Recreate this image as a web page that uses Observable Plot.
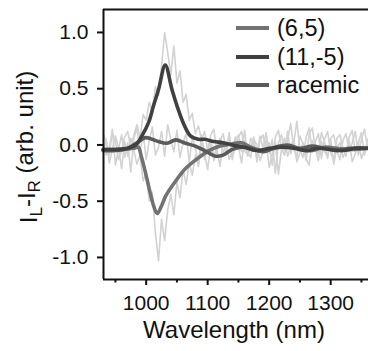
<!DOCTYPE html>
<html>
<head>
<meta charset="utf-8">
<script src="https://cdn.jsdelivr.net/npm/d3@7"></script>
<script src="https://cdn.jsdelivr.net/npm/@observablehq/plot@0.6"></script>
<style>
  html, body { margin: 0; padding: 0; background: #fff; overflow: hidden; }
  #chart { width: 368px; height: 351px; }
</style>
</head>
<body>
<div id="chart"></div>
<script>
// ---------- data ----------
const seriesNames = ["(6,5)", "(11,-5)", "racemic"];
const seriesColors = ["#727272", "#404040", "#5a5a5a"];

const xTicks = [1000, 1100, 1200, 1300];
const xMinorTicks = [950, 1050, 1150, 1250, 1350];
const yTicks = [-1.0, -0.5, 0.0, 0.5, 1.0];
const xDomain = [930.6, 1361.5];
const yDomain = [-1.196, 1.204];

// raw (noisy) spectra, sampled every 5 nm
const rawWavelength = [
  930, 935, 940, 945, 950, 955, 960, 965, 970, 975,
  980, 985, 990, 995, 1000, 1005, 1010, 1015, 1020, 1025,
  1030, 1035, 1040, 1045, 1050, 1055, 1060, 1065, 1070, 1075,
  1080, 1085, 1090, 1095, 1100, 1105, 1110, 1115, 1120, 1125,
  1130, 1135, 1140, 1145, 1150, 1155, 1160, 1165, 1170, 1175,
  1180, 1185, 1190, 1195, 1200, 1205, 1210, 1215, 1220, 1225,
  1230, 1235, 1240, 1245, 1250, 1255, 1260, 1265, 1270, 1275,
  1280, 1285, 1290, 1295, 1300, 1305, 1310, 1315, 1320, 1325,
  1330, 1335, 1340, 1345, 1350, 1355, 1360
];
const raw115 = [
  0.04, -0.09, -0.02, 0.11, 0.03, -0.13, -0.05, 0.07, 0.12, -0.03,
  0.09, 0.18, 0.06, 0.27, 0.22, 0.38, 0.30, 0.52, 0.44, 0.70,
  1.00, 0.82, 0.62, 0.88, 0.55, 0.66, 0.38, 0.45, 0.22, 0.28,
  0.10, 0.17, 0.04, 0.12, -0.05, 0.09, 0.14, -0.06, 0.03, 0.10,
  -0.03, 0.08, -0.11, -0.02, 0.07, 0.12, -0.05, -0.09, 0.06, 0.01,
  -0.12, 0.04, 0.09, -0.06, 0.02, -0.18, 0.07, 0.13, -0.03, -0.09,
  0.05, 0.19, -0.04, -0.11, 0.08, 0.01, -0.14, 0.10, 0.15, -0.02,
  -0.08, 0.11, 0.03, -0.12, 0.06, 0.09, -0.05, -0.13, 0.04, 0.10,
  -0.06, 0.02, 0.12, -0.09, 0.05, 0.14, -0.03
];
const raw65 = [
  -0.07, 0.05, -0.16, -0.04, 0.08, -0.02, -0.21, 0.03, -0.10, 0.06,
  -0.05, -0.17, -0.09, -0.32, -0.25, -0.50, -0.42, -0.78, -1.03, -0.66,
  -0.85, -0.58, -0.44, -0.62, -0.33, -0.47, -0.22, -0.35, -0.16, -0.27,
  -0.09, -0.19, 0.01, -0.13, -0.04, 0.05, -0.11, -0.02, 0.06, -0.08,
  0.03, -0.13, -0.05, 0.07, -0.01, -0.16, 0.04, -0.07, -0.11, 0.05,
  0.00, -0.14, -0.06, 0.04, -0.20, -0.08, 0.03, -0.26, -0.04, 0.06,
  -0.10, -0.01, 0.05, -0.15, -0.07, 0.02, -0.12, -0.18, 0.04, -0.03,
  -0.14, 0.03, -0.06, -0.10, 0.05, -0.17, -0.02, 0.02, -0.11, -0.05,
  0.04, -0.15, -0.08, 0.03, -0.12, -0.04, 0.01
];
const rawRacemic = [
  0.10, 0.03, -0.09, 0.14, -0.18, -0.04, 0.09, -0.11, 0.02, -0.24,
  0.06, 0.15, -0.07, 0.11, -0.13, 0.04, 0.16, -0.09, -0.02, 0.12,
  -0.10, 0.18, 0.05, -0.06, 0.13, -0.11, 0.02, 0.10, -0.15, 0.07,
  -0.03, -0.16, 0.09, -0.08, -0.22, 0.01, -0.14, -0.04, -0.19, 0.03,
  -0.08, 0.11, -0.13, 0.04, 0.09, -0.06, 0.13, -0.10, -0.02, 0.07,
  -0.15, 0.08, -0.03, 0.11, -0.07, 0.05, -0.25, 0.02, 0.09, -0.05,
  0.12, -0.08, 0.02, 0.21, -0.04, -0.11, 0.07, 0.15, -0.06, 0.03,
  0.10, -0.12, 0.05, 0.12, -0.07, -0.14, 0.06, 0.09, -0.03, -0.10,
  0.07, 0.13, -0.06, 0.02, 0.11, -0.09, 0.05
];

// smoothed spectra
const smooth65Wavelength = [930, 960, 980, 987, 992, 999, 1005, 1012, 1018, 1025, 1032, 1048, 1064, 1086, 1102, 1120, 1140, 1155, 1170, 1190, 1210, 1230, 1250, 1270, 1290, 1310, 1330, 1361];
const smooth65 = [-0.04, -0.04, -0.03, -0.02, -0.10, -0.25, -0.39, -0.54, -0.61, -0.54, -0.45, -0.32, -0.21, -0.11, -0.05, -0.01, 0.01, 0.02, -0.02, -0.05, -0.03, -0.01, -0.04, -0.05, -0.02, -0.03, -0.04, -0.03];

const smooth115Wavelength = [930, 950, 970, 983, 993, 1004, 1012, 1020, 1031, 1042, 1050, 1060, 1072, 1085, 1095, 1110, 1125, 1140, 1160, 1180, 1200, 1220, 1240, 1260, 1280, 1300, 1320, 1340, 1361];
const smooth115 = [-0.04, -0.04, -0.03, 0.00, 0.08, 0.20, 0.35, 0.49, 0.71, 0.49, 0.35, 0.20, 0.08, 0.05, 0.05, 0.03, 0.02, 0.00, -0.02, -0.05, -0.03, -0.02, -0.03, -0.05, -0.03, -0.04, -0.05, -0.03, -0.03];

const smoothRacWavelength = [930, 950, 970, 985, 999, 1010, 1020, 1034, 1048, 1064, 1080, 1095, 1113, 1125, 1140, 1155, 1170, 1190, 1210, 1230, 1250, 1270, 1290, 1310, 1330, 1361];
const smoothRac = [-0.05, -0.05, -0.03, 0.02, 0.065, 0.05, 0.03, 0.015, 0.045, 0.015, -0.01, -0.05, -0.10, -0.09, -0.04, -0.02, -0.03, -0.06, -0.02, 0.00, -0.03, -0.01, -0.03, -0.05, -0.03, -0.03];

// ---------- build tables ----------
const toRows = (xs, ys) => xs.map((x, i) => ({x, y: ys[i]}));
const rawSets = [toRows(rawWavelength, raw65), toRows(rawWavelength, raw115), toRows(rawWavelength, rawRacemic)];
const smoothSets = [
  toRows(smooth65Wavelength, smooth65),
  toRows(smooth115Wavelength, smooth115),
  toRows(smoothRacWavelength, smoothRac)
];

const FONT = "'Liberation Sans', Arial, Helvetica, sans-serif";

const plot = Plot.plot({
  width: 368,
  height: 351,
  marginLeft: 103,
  marginRight: 0,
  marginTop: 9,
  marginBottom: 72,
  style: {fontFamily: FONT, fontSize: "21px", color: "#111", background: "#fff"},
  x: {domain: xDomain, axis: null},
  y: {domain: yDomain, axis: null},
  marks: [
    ...rawSets.map(rows => Plot.line(rows, {x: "x", y: "y", stroke: "#d2d2d2", strokeWidth: 1.6})),
    Plot.line(smoothSets[0], {x: "x", y: "y", stroke: seriesColors[0], strokeWidth: 3.6, curve: "catmull-rom"}),
    Plot.line(smoothSets[2], {x: "x", y: "y", stroke: seriesColors[2], strokeWidth: 3.6, curve: "catmull-rom"}),
    Plot.line(smoothSets[1], {x: "x", y: "y", stroke: seriesColors[1], strokeWidth: 3.6, curve: "catmull-rom"}),
    Plot.axisX({ticks: xTicks, tickSize: 6, tickPadding: 10, strokeWidth: 2, label: null, tickFormat: d => String(d), fill: "#111"}),
    Plot.axisX({ticks: xMinorTicks, tickSize: 3.5, strokeWidth: 2, label: null, tickFormat: () => ""}),
    Plot.axisY({ticks: yTicks, tickSize: 6, tickPadding: 9, strokeWidth: 2, label: null, tickFormat: d => d.toFixed(1), fill: "#111"}),
    Plot.ruleY([yDomain[1]], {stroke: "#111", strokeWidth: 2}),
    Plot.ruleY([yDomain[0]], {stroke: "#111", strokeWidth: 2}),
    Plot.ruleX([xDomain[0]], {stroke: "#111", strokeWidth: 2})
  ]
});

document.getElementById("chart").appendChild(plot);

const svg = d3.select(plot);

// x-axis title
svg.append("text")
  .attr("x", 234).attr("y", 338)
  .attr("text-anchor", "middle")
  .style("font-family", FONT).style("font-size", "24px").attr("fill", "#111")
  .text("Wavelength (nm)");

// y-axis title with subscripts
const yt = svg.append("text")
  .attr("transform", "translate(37,147) rotate(-90)")
  .attr("text-anchor", "middle")
  .style("font-family", FONT).style("font-size", "24px").attr("fill", "#111");
yt.append("tspan").text("I");
yt.append("tspan").attr("dy", "0.3em").style("font-size", "17px").text("L");
yt.append("tspan").attr("dy", "-0.3em").text("-I");
yt.append("tspan").attr("dy", "0.3em").style("font-size", "17px").text("R");
yt.append("tspan").attr("dy", "-0.3em").text(" (arb. unit)");

// legend
const legendY = [28, 57, 85];
const lg = svg.append("g").attr("text-anchor", "start");
seriesNames.forEach((name, i) => {
  lg.append("line")
    .attr("x1", 236).attr("x2", 269)
    .attr("y1", legendY[i]).attr("y2", legendY[i])
    .attr("stroke", seriesColors[i]).attr("stroke-width", 3.8);
  lg.append("text")
    .attr("x", 277).attr("y", legendY[i] + 8)
    .attr("text-anchor", "start")
    .style("font-family", FONT).style("font-size", "23.5px").attr("fill", "#111")
    .text(name);
});
</script>
</body>
</html>
